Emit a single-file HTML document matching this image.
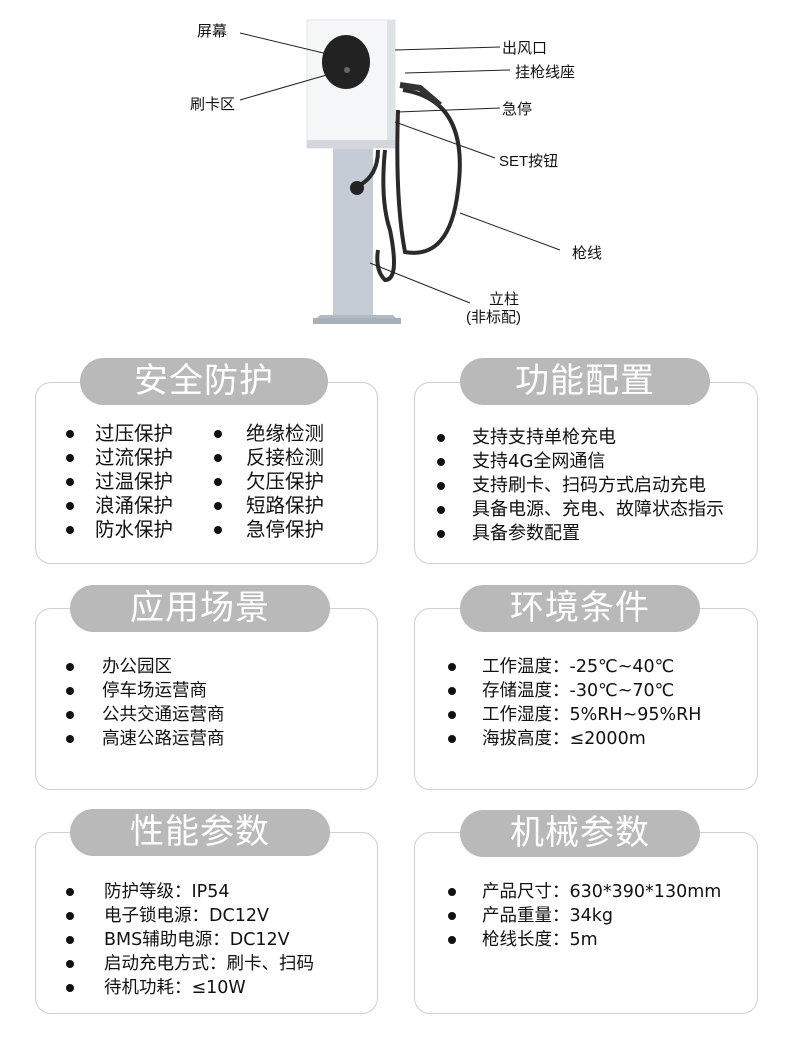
<!DOCTYPE html>
<html><head><meta charset="utf-8"><style>
body{margin:0;width:790px;height:1058px;background:#fff;position:relative;overflow:hidden;font-family:"Liberation Sans","Noto Sans CJK SC",sans-serif;color:#111}
.box{position:absolute;border:1.5px solid #cfcfcf;border-radius:16px;background:#fff}
.pill{position:absolute;background:#b9b9b9;border-radius:24px;color:#fff;font-size:34px;text-align:center;line-height:47px;height:47px;letter-spacing:1px}
.t{position:absolute;font-family:"DejaVu Sans","Noto Sans CJK SC",sans-serif;font-size:18.5px;line-height:24px;white-space:nowrap}
.b{position:absolute;width:8px;height:8px;border-radius:50%;background:#111}
.l{position:absolute;font-size:15px;white-space:nowrap}
</style></head><body>
<svg width="790" height="340" style="position:absolute;left:0;top:0">
 <rect x="333" y="145" width="40" height="172" fill="#c5ccd6"/>
 <polygon points="313,322 400,322 393,315 320,315" fill="#b3bac4"/>
 <rect x="313" y="318" width="88" height="6" fill="#a8b0ba"/>
 <rect x="307" y="20" width="88" height="128" fill="#f5f6f7" stroke="#e2e4e6"/>
 <rect x="387" y="20" width="8" height="128" fill="#dfe2e5"/>
 <rect x="307" y="140" width="88" height="8" fill="#d3d7dc"/>
 <ellipse cx="346" cy="62" rx="24" ry="27" fill="#222"/>
 <circle cx="347" cy="70" r="3" fill="#666"/>
 <path d="M403 90 Q470 100 458 190 Q450 260 405 252 Q395 200 398 110" fill="none" stroke="#2a2a2a" stroke-width="4"/>
 <path d="M385 150 Q380 200 390 230 Q400 280 385 280 Q375 270 378 250" fill="none" stroke="#2a2a2a" stroke-width="4"/>
 <path d="M378 150 Q378 175 360 185" fill="none" stroke="#2a2a2a" stroke-width="4"/>
 <circle cx="357" cy="188" r="7" fill="#222"/>
 <path d="M400 85 L420 88 L440 105" fill="none" stroke="#333" stroke-width="6"/>
 <g stroke="#222" stroke-width="1" fill="none">
  <line x1="240" y1="33" x2="340" y2="57"/>
  <line x1="240" y1="100" x2="330" y2="74"/>
  <line x1="395" y1="50" x2="500" y2="47"/>
  <line x1="405" y1="73" x2="510" y2="70"/>
  <line x1="398" y1="112" x2="500" y2="108"/>
  <line x1="395" y1="122" x2="495" y2="158"/>
  <line x1="460" y1="213" x2="560" y2="250"/>
  <line x1="370" y1="263" x2="470" y2="303"/>
 </g>
</svg>
<div class="l" style="left:197px;top:20px">屏幕</div>
<div class="l" style="left:190px;top:93px">刷卡区</div>
<div class="l" style="left:502px;top:37px">出风口</div>
<div class="l" style="left:515px;top:61px">挂枪线座</div>
<div class="l" style="left:502px;top:98px">急停</div>
<div class="l" style="left:499px;top:150px">SET按钮</div>
<div class="l" style="left:572px;top:242px">枪线</div>
<div class="l" style="left:489px;top:288px">立柱</div>
<div class="l" style="left:466px;top:306px">(非标配)</div>

<div class="box" style="left:35px;top:382px;width:341px;height:180px"></div>
<div class="pill" style="left:80px;top:358px;width:248px">安全防护</div>
<div class="box" style="left:414px;top:382px;width:342px;height:180px"></div>
<div class="pill" style="left:460px;top:358px;width:250px">功能配置</div>
<div class="box" style="left:35px;top:608px;width:341px;height:180px"></div>
<div class="pill" style="left:70px;top:585px;width:260px">应用场景</div>
<div class="box" style="left:414px;top:608px;width:342px;height:180px"></div>
<div class="pill" style="left:460px;top:585px;width:240px">环境条件</div>
<div class="box" style="left:35px;top:832px;width:341px;height:180px"></div>
<div class="pill" style="left:70px;top:809px;width:260px">性能参数</div>
<div class="box" style="left:414px;top:832px;width:342px;height:180px"></div>
<div class="pill" style="left:460px;top:810px;width:240px">机械参数</div>

<div class="b" style="left:66px;top:430px"></div><div class="b" style="left:66px;top:454px"></div><div class="b" style="left:66px;top:478px"></div><div class="b" style="left:66px;top:502px"></div><div class="b" style="left:66px;top:526px"></div>
<div class="t" style="left:95px;top:422px;font-size:19.5px">过压保护<br>过流保护<br>过温保护<br>浪涌保护<br>防水保护</div>
<div class="b" style="left:214px;top:430px"></div><div class="b" style="left:214px;top:454px"></div><div class="b" style="left:214px;top:478px"></div><div class="b" style="left:214px;top:502px"></div><div class="b" style="left:214px;top:526px"></div>
<div class="t" style="left:246px;top:422px;font-size:19.5px">绝缘检测<br>反接检测<br>欠压保护<br>短路保护<br>急停保护</div>
<div class="b" style="left:437px;top:434px"></div><div class="b" style="left:437px;top:458px"></div><div class="b" style="left:437px;top:482px"></div><div class="b" style="left:437px;top:506px"></div><div class="b" style="left:437px;top:530px"></div>
<div class="t" style="left:472px;top:426px;font-size:18px">支持支持单枪充电<br>支持4G全网通信<br>支持刷卡、扫码方式启动充电<br>具备电源、充电、故障状态指示<br>具备参数配置</div>
<div class="b" style="left:66px;top:663px"></div><div class="b" style="left:66px;top:687px"></div><div class="b" style="left:66px;top:711px"></div><div class="b" style="left:66px;top:735px"></div>
<div class="t" style="left:102px;top:655px;font-size:17.5px">办公园区<br>停车场运营商<br>公共交通运营商<br>高速公路运营商</div>
<div class="b" style="left:448px;top:663px"></div><div class="b" style="left:448px;top:687px"></div><div class="b" style="left:448px;top:711px"></div><div class="b" style="left:448px;top:735px"></div>
<div class="t" style="left:482px;top:655px;font-size:17.5px">工作温度：-25℃~40℃<br>存储温度：-30℃~70℃<br>工作湿度：5%RH~95%RH<br>海拔高度：≤2000m</div>
<div class="b" style="left:66px;top:888px"></div><div class="b" style="left:66px;top:912px"></div><div class="b" style="left:66px;top:936px"></div><div class="b" style="left:66px;top:960px"></div><div class="b" style="left:66px;top:984px"></div>
<div class="t" style="left:104px;top:880px;font-size:17.5px">防护等级：IP54<br>电子锁电源：DC12V<br>BMS辅助电源：DC12V<br>启动充电方式：刷卡、扫码<br>待机功耗：≤10W</div>
<div class="b" style="left:448px;top:888px"></div><div class="b" style="left:448px;top:912px"></div><div class="b" style="left:448px;top:936px"></div>
<div class="t" style="left:482px;top:880px;font-size:17.5px">产品尺寸：630*390*130mm<br>产品重量：34kg<br>枪线长度：5m</div>
</body></html>
